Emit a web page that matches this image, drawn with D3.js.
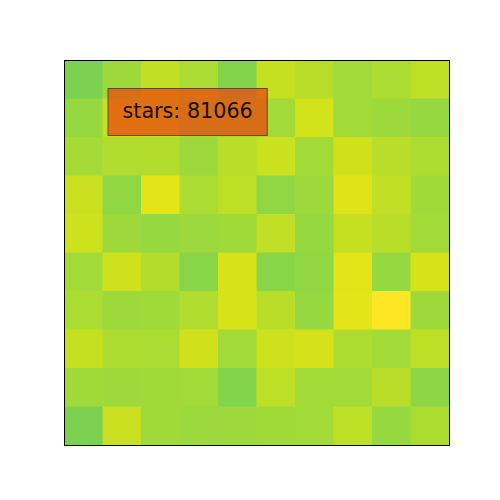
<!DOCTYPE html>
<html lang="en">
<head>
    <meta charset="UTF-8">
    <title>Stars heatmap</title>
    <script src="https://d3js.org/d3.v7.min.js"></script>
    <style>
        body { margin: 0; background: #fff; }
        .label text { font-family: "DejaVu Sans", sans-serif; font-size: 20.7px; }
    </style>
</head>
<body>
    <svg id="chart"></svg>
    <script>
        const cols = [0, 1, 2, 3, 4, 5, 6, 7, 8, 9];
        const rows = [0, 1, 2, 3, 4, 5, 6, 7, 8, 9];
        // stars per cell, row by row from the top
        const stars = [
            [80120, 85300, 90400, 87100, 81300, 91200, 89300, 86100, 87200, 90100],
            [84200, 91000, 90100, 86000, 86300, 86200, 93000, 86200, 85100, 84000],
            [86300, 88100, 88400, 85200, 89100, 91800, 86000, 92700, 89000, 87600],
            [91600, 83200, 95600, 87100, 90000, 83100, 85400, 94900, 90200, 85500],
            [92200, 85100, 84100, 85000, 85600, 90300, 84000, 91200, 89100, 86000],
            [86100, 92300, 88200, 82100, 93800, 82000, 83100, 95500, 84100, 93800],
            [87000, 85200, 85700, 88100, 94000, 89200, 84100, 95600, 99870, 85400],
            [91100, 87600, 87000, 92700, 86100, 92100, 93600, 87500, 86000, 90000],
            [85600, 85100, 85500, 86000, 81500, 90100, 86100, 86000, 89100, 83000],
            [80000, 91400, 85500, 85000, 85100, 85600, 86100, 90100, 84000, 87500]
        ];
        const label = { row: 1, col: 1, text: "stars: 81066" };

        const margin = { top: 60, right: 51, bottom: 55, left: 64 };
        const width = 500 - margin.left - margin.right;
        const height = 500 - margin.top - margin.bottom;

        const svg = d3.select("#chart")
            .attr("width", 500)
            .attr("height", 500)
            .append("g")
            .attr("transform", `translate(${margin.left}, ${margin.top})`);

        const x = d3.scaleBand().domain(cols).range([0, width]);
        const y = d3.scaleBand().domain(rows).range([0, height]);
        const color = d3.scaleSequential(d3.interpolateViridis)
            .domain([0, d3.max(stars.flat())]);

        const cells = [];
        rows.forEach(r => cols.forEach(c => cells.push({ r, c, v: stars[r][c] })));

        svg.selectAll("rect.cell")
            .data(cells)
            .enter().append("rect")
            .attr("class", "cell")
            .attr("x", d => x(d.c))
            .attr("y", d => y(d.r))
            .attr("width", x.bandwidth() + 0.5)
            .attr("height", y.bandwidth() + 0.5)
            .attr("fill", d => color(d.v));

        // frame
        svg.append("rect")
            .attr("x", 0.5)
            .attr("y", 0.5)
            .attr("width", width)
            .attr("height", height)
            .attr("fill", "none")
            .attr("stroke", "#000")
            .attr("stroke-width", 1);

        // annotation box
        const g = svg.append("g").attr("class", "label");
        const txt = g.append("text")
            .attr("x", x(label.col) + 20)
            .attr("y", y(label.row) + 19)
            .attr("fill", "#111")
            .text(label.text);
        const bb = txt.node().getBBox();
        g.insert("rect", "text")
            .attr("x", bb.x - 14.5)
            .attr("y", y(label.row) - 10)
            .attr("width", bb.width + 29)
            .attr("height", 47)
            .attr("fill", "#ee3e08")
            .attr("fill-opacity", 0.7)
            .attr("stroke", "#5e4a26")
            .attr("stroke-width", 1);
    </script>
</body>
</html>
